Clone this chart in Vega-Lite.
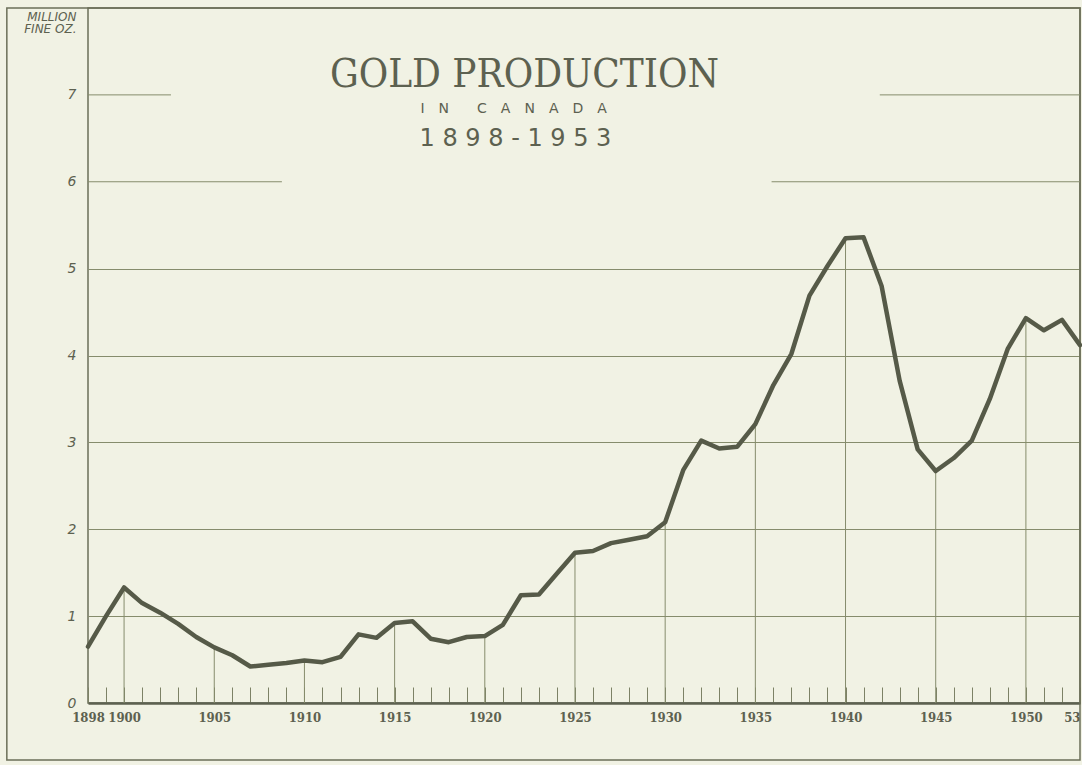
{
  "$schema": "https://vega.github.io/schema/vega-lite/v6.json",
  "width": 992,
  "height": 695,
  "autosize": {"type": "none"},
  "padding": {"left": 88, "top": 8, "right": 2, "bottom": 62},
  "background": "#f1f2e4",
  "config": {
    "view": {"stroke": "#6b6f58", "strokeWidth": 1.5},
    "font": "DejaVu Sans"
  },
  "datasets": {
    "gold": [
      {"year": 1898, "value": 0.65}, {"year": 1899, "value": 1.00}, {"year": 1900, "value": 1.33},
      {"year": 1901, "value": 1.15}, {"year": 1902, "value": 1.04}, {"year": 1903, "value": 0.91},
      {"year": 1904, "value": 0.76}, {"year": 1905, "value": 0.64}, {"year": 1906, "value": 0.55},
      {"year": 1907, "value": 0.42}, {"year": 1908, "value": 0.44}, {"year": 1909, "value": 0.46},
      {"year": 1910, "value": 0.49}, {"year": 1911, "value": 0.47}, {"year": 1912, "value": 0.53},
      {"year": 1913, "value": 0.79}, {"year": 1914, "value": 0.75}, {"year": 1915, "value": 0.92},
      {"year": 1916, "value": 0.94}, {"year": 1917, "value": 0.74}, {"year": 1918, "value": 0.70},
      {"year": 1919, "value": 0.76}, {"year": 1920, "value": 0.77}, {"year": 1921, "value": 0.90},
      {"year": 1922, "value": 1.24}, {"year": 1923, "value": 1.25}, {"year": 1924, "value": 1.49},
      {"year": 1925, "value": 1.73}, {"year": 1926, "value": 1.75}, {"year": 1927, "value": 1.84},
      {"year": 1928, "value": 1.88}, {"year": 1929, "value": 1.92}, {"year": 1930, "value": 2.08},
      {"year": 1931, "value": 2.68}, {"year": 1932, "value": 3.02}, {"year": 1933, "value": 2.93},
      {"year": 1934, "value": 2.95}, {"year": 1935, "value": 3.21}, {"year": 1936, "value": 3.66},
      {"year": 1937, "value": 4.02}, {"year": 1938, "value": 4.69}, {"year": 1939, "value": 5.03},
      {"year": 1940, "value": 5.35}, {"year": 1941, "value": 5.36}, {"year": 1942, "value": 4.80},
      {"year": 1943, "value": 3.71}, {"year": 1944, "value": 2.92}, {"year": 1945, "value": 2.67},
      {"year": 1946, "value": 2.82}, {"year": 1947, "value": 3.02}, {"year": 1948, "value": 3.50},
      {"year": 1949, "value": 4.08}, {"year": 1950, "value": 4.43}, {"year": 1951, "value": 4.29},
      {"year": 1952, "value": 4.41}, {"year": 1953, "value": 4.12}
    ]
  },
  "layer": [
    {
      "data": {"values": [{}]},
      "mark": {"type": "rect", "fillOpacity": 0, "stroke": "#6b6f58", "strokeWidth": 1.5, "clip": false},
      "encoding": {
        "x": {"datum": 1893.5, "type": "quantitative", "scale": {"domain": [1898, 1953], "nice": false, "zero": false}},
        "x2": {"datum": 1953},
        "y": {"datum": -0.655, "type": "quantitative", "scale": {"domain": [0, 8], "nice": false}},
        "y2": {"datum": 8}
      }
    },
    {
      "data": {"values": [{}]},
      "mark": {"type": "rule", "color": "#868c6c", "strokeWidth": 1},
      "encoding": {"x": {"datum": 1898, "type": "quantitative"}, "x2": {"datum": 1902.6}, "y": {"datum": 7, "type": "quantitative"}}
    },
    {
      "data": {"values": [{}]},
      "mark": {"type": "rule", "color": "#868c6c", "strokeWidth": 1},
      "encoding": {"x": {"datum": 1941.9, "type": "quantitative"}, "x2": {"datum": 1953}, "y": {"datum": 7, "type": "quantitative"}}
    },
    {
      "data": {"values": [{}]},
      "mark": {"type": "rule", "color": "#868c6c", "strokeWidth": 1},
      "encoding": {"x": {"datum": 1898, "type": "quantitative"}, "x2": {"datum": 1908.75}, "y": {"datum": 6, "type": "quantitative"}}
    },
    {
      "data": {"values": [{}]},
      "mark": {"type": "rule", "color": "#868c6c", "strokeWidth": 1},
      "encoding": {"x": {"datum": 1935.9, "type": "quantitative"}, "x2": {"datum": 1953}, "y": {"datum": 6, "type": "quantitative"}}
    },
    {
      "data": {"name": "gold"},
      "transform": [{"filter": "datum.year % 5 == 0"}],
      "mark": {"type": "rule", "color": "#868c6c", "strokeWidth": 1},
      "encoding": {
        "x": {"field": "year", "type": "quantitative"},
        "y": {"field": "value", "type": "quantitative"},
        "y2": {"datum": 0}
      }
    },
    {
      "data": {"values": [{}]},
      "mark": {"type": "text", "text": "GOLD PRODUCTION", "font": "DejaVu Serif Condensed", "fontSize": 40, "color": "#5d6150", "align": "center", "baseline": "middle"},
      "encoding": {"x": {"datum": 1922.2, "type": "quantitative"}, "y": {"datum": 7.23, "type": "quantitative"}}
    },
    {
      "data": {"values": [{}]},
      "mark": {"type": "text", "text": "I\u2003N\u2003\u2003C\u2003A\u2003N\u2003A\u2003D\u2003A", "font": "DejaVu Sans", "fontSize": 14, "color": "#5d6150", "align": "center", "baseline": "middle"},
      "encoding": {"x": {"datum": 1921.6, "type": "quantitative"}, "y": {"datum": 6.84, "type": "quantitative"}}
    },
    {
      "data": {"values": [{}]},
      "mark": {"type": "text", "text": "1 8 9 8 - 1 9 5 3", "font": "DejaVu Sans", "fontSize": 24, "color": "#5d6150", "align": "center", "baseline": "middle"},
      "encoding": {"x": {"datum": 1921.7, "type": "quantitative"}, "y": {"datum": 6.49, "type": "quantitative"}}
    },
    {
      "data": {"name": "gold"},
      "mark": {"type": "line", "color": "#565a48", "strokeWidth": 4.5, "strokeJoin": "round", "strokeCap": "round"},
      "encoding": {
        "x": {
          "field": "year", "type": "quantitative",
          "axis": {
            "values": [1898,1899,1900,1901,1902,1903,1904,1905,1906,1907,1908,1909,1910,1911,1912,1913,1914,1915,1916,1917,1918,1919,1920,1921,1922,1923,1924,1925,1926,1927,1928,1929,1930,1931,1932,1933,1934,1935,1936,1937,1938,1939,1940,1941,1942,1943,1944,1945,1946,1947,1948,1949,1950,1951,1952,1953],
            "tickCount": 100,
            "labelExpr": "datum.value == 1953 ? '53' : ((datum.value == 1898 || datum.value % 5 == 0) ? '' + datum.value : '')",
            "labelAlign": {"condition": {"test": "datum.value == 1953", "value": "right"}, "value": "center"},
            "tickSize": -16, "tickColor": "#7d8266", "tickWidth": 1,
            "domain": true, "domainColor": "#5d6150", "domainWidth": 2.5,
            "grid": false,
            "labelFont": "DejaVu Serif Condensed", "labelFontWeight": "bold", "labelFontSize": 13, "labelColor": "#5d6150",
            "labelPadding": 24, "labelOverlap": false, "labelFlush": false,
            "title": null
          }
        },
        "y": {
          "field": "value", "type": "quantitative",
          "axis": {
            "values": [0,1,2,3,4,5,6,7],
            "format": "d",
            "grid": true, "gridColor": "#868c6c", "gridWidth": 1,
            "gridOpacity": {"condition": {"test": "datum.value >= 6 || datum.value == 0", "value": 0}, "value": 1},
            "ticks": false, "domain": false,
            "labelFont": "DejaVu Sans", "labelFontStyle": "italic", "labelFontSize": 14, "labelColor": "#5d6150", "labelPadding": 12,
            "title": ["MILLION", "FINE OZ."],
            "titleAngle": 0, "titleAlign": "right", "titleBaseline": "top",
            "titleX": -12, "titleY": 3,
            "titleFont": "DejaVu Sans", "titleFontSize": 12, "titleFontStyle": "italic", "titleFontWeight": "normal",
            "titleColor": "#5d6150", "titleLineHeight": 12
          }
        }
      }
    }
  ]
}
